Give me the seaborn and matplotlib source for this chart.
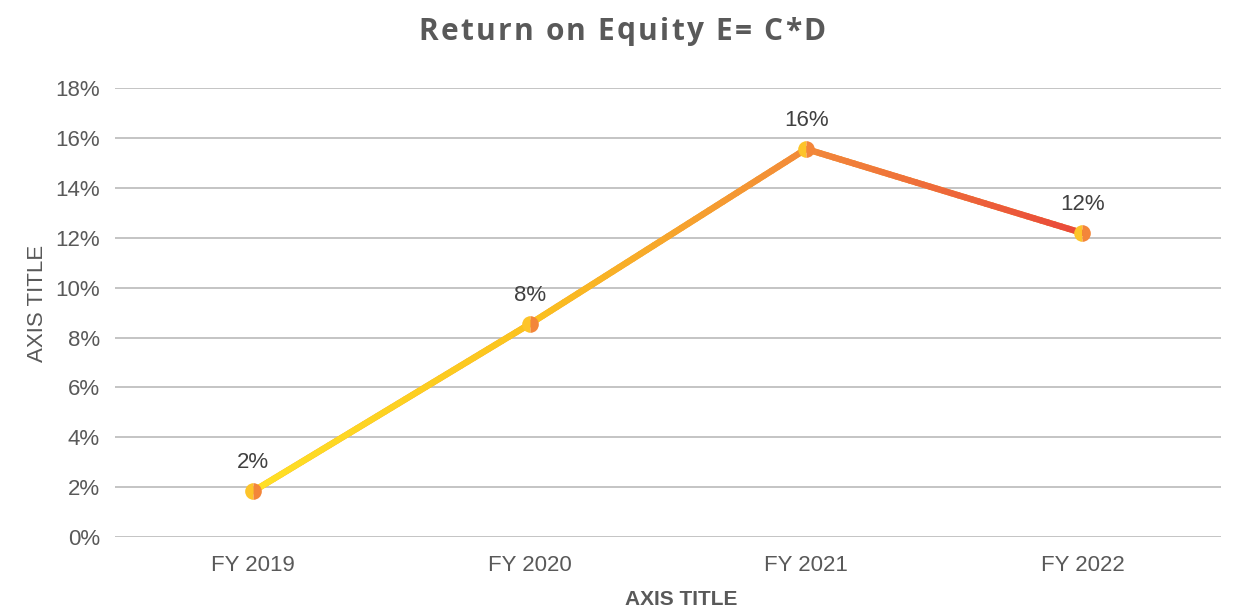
# return on equity line chart
import numpy as np
import pandas as pd
import seaborn as sns
from matplotlib import pyplot as plt
from matplotlib.collections import LineCollection
from matplotlib.colors import LinearSegmentedColormap
from matplotlib.ticker import PercentFormatter

# chart data
years = ['FY 2019', 'FY 2020', 'FY 2021', 'FY 2022']
roe = [0.0184, 0.0854, 0.1556, 0.1219]
point_labels = ['2%', '8%', '16%', '12%']
y_ticks = [0, 0.02, 0.04, 0.06, 0.08, 0.10, 0.12, 0.14, 0.16, 0.18]
title = 'Return on Equity E= C*D'

df = pd.DataFrame({'year': years, 'roe': roe})

sns.set_style('white')
plt.rcParams['font.family'] = ['Liberation Sans', 'DejaVu Sans']

grey = '#595959'
fig = plt.figure(figsize=(12.38, 6.12), dpi=100)
ax = fig.add_axes([0.093, 0.1225, 0.893, 0.7335])

# base line through seaborn, then gradient overlay on top of it
sns.lineplot(data=df, x='year', y='roe', ax=ax, color='#F7A030', linewidth=4.5, sort=False)

grad = LinearSegmentedColormap.from_list('roe', ['#FFE126', '#FBC21E', '#F28A3A', '#E9493A'])
xs = np.arange(len(years))
segs, cols = [], []
n = 40
for i in range(len(years) - 1):
    for k in range(n):
        t0, t1 = k / n, (k + 1) / n
        x0 = xs[i] + t0
        x1 = xs[i] + t1
        y0 = roe[i] + (roe[i + 1] - roe[i]) * t0
        y1 = roe[i] + (roe[i + 1] - roe[i]) * t1
        segs.append([(x0, y0), (x1, y1)])
        cols.append(grad((x0 + x1) / 2 / (len(years) - 1)))
lc = LineCollection(segs, colors=cols, linewidths=4.5, capstyle='round', zorder=3)
ax.add_collection(lc)

# markers (half yellow / half orange for the gradient look)
ax.plot(xs, roe, linestyle='none', marker='o', markersize=12, fillstyle='left',
        markerfacecolor='#FDC42A', markerfacecoloralt='#F3863A',
        markeredgewidth=0, zorder=4)

# data labels
for x, y, lab in zip(xs, roe, point_labels):
    ax.annotate(lab, (x, y), xytext=(0, 13), textcoords='offset points',
                ha='center', va='bottom', fontsize=16, color='#404040')

ax.set_xlim(-0.5, len(years) - 0.5)
ax.set_ylim(0, 0.18)
ax.set_yticks(y_ticks)
ax.yaxis.set_major_formatter(PercentFormatter(1.0, decimals=0))
ax.grid(axis='y', color='#BFBFBF', linewidth=1.3)
ax.set_axisbelow(True)
sns.despine(ax=ax, left=True, bottom=True, top=True, right=True)
ax.tick_params(axis='both', length=0, labelsize=16, labelcolor=grey)
ax.tick_params(axis='x', pad=13)
ax.tick_params(axis='y', pad=11)

ax.set_xlabel('AXIS TITLE', fontsize=15, fontweight='bold', color=grey)
ax.set_ylabel('AXIS TITLE', fontsize=16, color=grey)
ax.xaxis.set_label_coords(0.512, -0.118)
ax.yaxis.set_label_coords(-0.061, 0.52)

# title with a little letter spacing, placed char by char
renderer = fig.canvas.get_renderer()
tkw = dict(fontsize=21.5, fontweight='bold', color=grey, family=['Open Sans', 'DejaVu Sans'])
track = 2.2
widths = []
for ch in title:
    if ch == ' ':
        widths.append(0)
        continue
    t = fig.text(0, 0, ch, **tkw)
    widths.append(t.get_window_extent(renderer).width)
    t.remove()
a = fig.text(0, 0, 'n n', **tkw)
b = fig.text(0, 0, 'nn', **tkw)
sw = a.get_window_extent(renderer).width - b.get_window_extent(renderer).width
a.remove()
b.remove()
widths = [w if ch != ' ' else sw for ch, w in zip(title, widths)]
total = sum(widths) + track * (len(title) - 1)
xpix = 622 - total / 2
for ch, w in zip(title, widths):
    if ch != ' ':
        fig.text(xpix / fig.bbox.width, 1 - 28 / fig.bbox.height, ch,
                 ha='left', va='center_baseline', **tkw)
    xpix += w + track

fig.savefig('out.png', dpi=100)
